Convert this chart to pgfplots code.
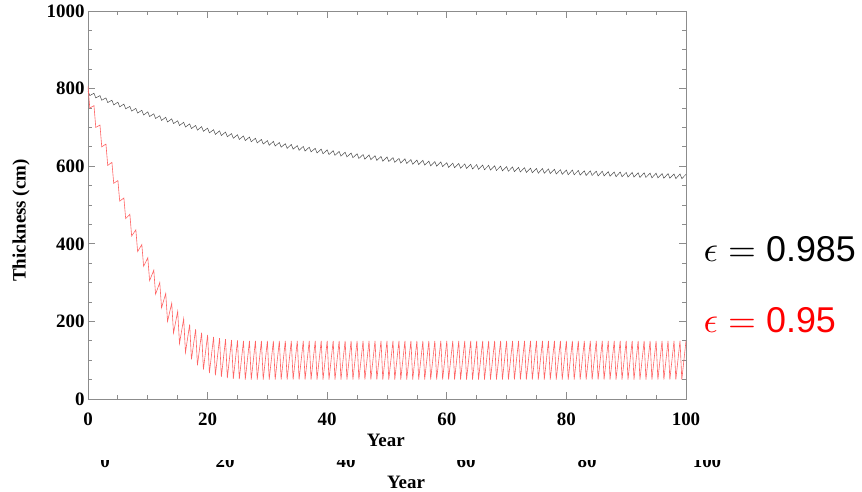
\documentclass[border=0pt]{standalone}
\usepackage{pgfplots}
\pgfplotsset{compat=1.18}
\usepackage{fontspec}
\setmainfont{Liberation Serif}
\newfontfamily\arialfont{Liberation Sans}

\newcommand{\labfont}{\fontsize{19}{19}\selectfont\bfseries}
\definecolor{thinred}{RGB}{255,100,100}

\begin{document}
\begin{tikzpicture}
\begin{axis}[
    scale only axis,
    width=598bp, height=388bp,
    xmin=0, xmax=100, ymin=0, ymax=1000,
    xtick={0,20,40,60,80,100},
    ytick={0,200,400,600,800,1000},
    minor x tick num=3, minor y tick num=3,
    major tick length=7bp, minor tick length=4bp,
    axis line style={black!45, line width=0.8bp},
    tick style={black!45, line width=0.8bp},
    tick label style={font=\labfont},
    xticklabel style={yshift=-10bp},
    /pgf/number format/assume math mode=true,
    /pgf/number format/1000 sep={},
    xlabel={Year}, ylabel={Thickness (cm)},
    label style={font=\labfont},
    xlabel style={at={(axis description cs:0.498,-0.106)}, anchor=center},
    ylabel style={at={(axis description cs:-0.112,0.46)}, anchor=center},
]
% epsilon = 0.985
\addplot[black!70, line width=0.5bp] coordinates {
(0,794)(0.3,782)(1,788)(1.3,776)(2,782)(2.3,770)(3,776)(3.3,764)(4,770)(4.3,758)
(5,765)(5.3,753)(6,760)(6.3,748)(7,754)(7.3,742)(8,749)(8.3,737)(9,744)(9.3,732)
(10,740)(10.3,728)(11,735)(11.3,723)(12,730)(12.3,718)(13,726)(13.3,714)(14,722)(14.3,710)
(15,717)(15.3,705)(16,713)(16.3,701)(17,709)(17.3,697)(18,705)(18.3,693)(19,702)(19.3,690)
(20,698)(20.3,686)(21,694)(21.3,682)(22,691)(22.3,679)(23,688)(23.3,676)(24,684)(24.3,672)
(25,681)(25.3,669)(26,678)(26.3,666)(27,675)(27.3,663)(28,672)(28.3,660)(29,669)(29.3,657)
(30,666)(30.3,654)(31,664)(31.3,652)(32,661)(32.3,649)(33,658)(33.3,646)(34,656)(34.3,644)
(35,653)(35.3,641)(36,651)(36.3,639)(37,649)(37.3,637)(38,646)(38.3,634)(39,644)(39.3,632)
(40,642)(40.3,630)(41,640)(41.3,628)(42,638)(42.3,626)(43,636)(43.3,624)(44,634)(44.3,622)
(45,632)(45.3,620)(46,630)(46.3,618)(47,629)(47.3,617)(48,627)(48.3,615)(49,625)(49.3,613)
(50,624)(50.3,612)(51,622)(51.3,610)(52,620)(52.3,608)(53,619)(53.3,607)(54,617)(54.3,605)
(55,616)(55.3,604)(56,615)(56.3,603)(57,613)(57.3,601)(58,612)(58.3,600)(59,611)(59.3,599)
(60,609)(60.3,597)(61,608)(61.3,596)(62,607)(62.3,595)(63,606)(63.3,594)(64,605)(64.3,593)
(65,604)(65.3,592)(66,603)(66.3,591)(67,602)(67.3,590)(68,601)(68.3,589)(69,600)(69.3,588)
(70,599)(70.3,587)(71,598)(71.3,586)(72,597)(72.3,585)(73,596)(73.3,584)(74,595)(74.3,583)
(75,594)(75.3,582)(76,594)(76.3,582)(77,593)(77.3,581)(78,592)(78.3,580)(79,591)(79.3,579)
(80,590)(80.3,578)(81,590)(81.3,578)(82,589)(82.3,577)(83,588)(83.3,576)(84,588)(84.3,576)
(85,587)(85.3,575)(86,587)(86.3,575)(87,586)(87.3,574)(88,585)(88.3,573)(89,585)(89.3,573)
(90,584)(90.3,572)(91,584)(91.3,572)(92,583)(92.3,571)(93,583)(93.3,571)(94,582)(94.3,570)
(95,582)(95.3,570)(96,581)(96.3,569)(97,581)(97.3,569)(98,580)(98.3,568)(99,580)(99.3,568)
(100,579)
};
% epsilon = 0.95
\addplot[thinred, line width=0.6bp] coordinates {
(0,806)(0.3,750)(1,756)(1.3,700)(2,706)(2.3,650)(3,657)(3.3,602)(4,610)(4.3,556)
(5,563)(5.3,510)(6,518)(6.3,465)(7,476)(7.3,420)(8,436)(8.3,380)(9,398)(9.3,342)
(10,364)(10.3,305)(11,332)(11.3,270)(12,300)(12.3,235)(13,272)(13.3,200)(14,247)(14.3,170)
(15,226)(15.3,143)(16,207)(16.3,120)(17,192)(17.3,102)(18,180)(18.3,87)(19,171)(19.3,76)
(20,165)(20.3,67)(21,160)(21.3,61)(22,157)(22.3,57)(23,154)(23.3,54)(24,152)(24.3,52)
(25,151)(25.3,51)(26,150)(26.3,50)(27,150)(27.3,50)(28,150)(28.3,50)(29,150)(29.3,50)
(30,150)(30.3,50)(31,150)(31.3,50)(32,150)(32.3,50)(33,150)(33.3,50)(34,150)(34.3,50)
(35,150)(35.3,50)(36,150)(36.3,50)(37,150)(37.3,50)(38,150)(38.3,50)(39,150)(39.3,50)
(40,150)(40.3,50)(41,150)(41.3,50)(42,150)(42.3,50)(43,150)(43.3,50)(44,150)(44.3,50)
(45,150)(45.3,50)(46,150)(46.3,50)(47,150)(47.3,50)(48,150)(48.3,50)(49,150)(49.3,50)
(50,150)(50.3,50)(51,150)(51.3,50)(52,150)(52.3,50)(53,150)(53.3,50)(54,150)(54.3,50)
(55,150)(55.3,50)(56,150)(56.3,50)(57,150)(57.3,50)(58,150)(58.3,50)(59,150)(59.3,50)
(60,150)(60.3,50)(61,150)(61.3,50)(62,150)(62.3,50)(63,150)(63.3,50)(64,150)(64.3,50)
(65,150)(65.3,50)(66,150)(66.3,50)(67,150)(67.3,50)(68,150)(68.3,50)(69,150)(69.3,50)
(70,150)(70.3,50)(71,150)(71.3,50)(72,150)(72.3,50)(73,150)(73.3,50)(74,150)(74.3,50)
(75,150)(75.3,50)(76,150)(76.3,50)(77,150)(77.3,50)(78,150)(78.3,50)(79,150)(79.3,50)
(80,150)(80.3,50)(81,150)(81.3,50)(82,150)(82.3,50)(83,150)(83.3,50)(84,150)(84.3,50)
(85,150)(85.3,50)(86,150)(86.3,50)(87,150)(87.3,50)(88,150)(88.3,50)(89,150)(89.3,50)
(90,150)(90.3,50)(91,150)(91.3,50)(92,150)(92.3,50)(93,150)(93.3,50)(94,150)(94.3,50)
(95,150)(95.3,50)(96,150)(96.3,50)(97,150)(97.3,50)(98,150)(98.3,50)(99,150)(99.3,50)
(100,150)
};
\end{axis}

% labels on the right
\node[anchor=west, font=\fontsize{10}{12}\selectfont, scale=3.6, inner sep=0pt] at (615bp,150bp)
  {$\epsilon={}$\arialfont 0.985};
\node[anchor=west, font=\fontsize{10}{12}\selectfont, scale=3.6, inner sep=0pt, red] at (615bp,79bp)
  {$\epsilon={}$\arialfont 0.95};

% cut-off second set of x labels below
\begin{scope}
\clip (-88bp,-93bp) rectangle (774bp,-61bp);
\foreach \x/\l in {17/0,137/20,258/40,378/60,499/80,619/100}
  \node[font=\labfont, anchor=base, inner sep=0pt] at (\x bp,-68bp) {\l};
\end{scope}
\node[font=\labfont, anchor=base, inner sep=0pt] at (318bp,-89bp) {Year};

\pgfresetboundingbox
\path[use as bounding box] (-88bp,-93bp) rectangle (774bp,399bp);
\end{tikzpicture}
\end{document}
